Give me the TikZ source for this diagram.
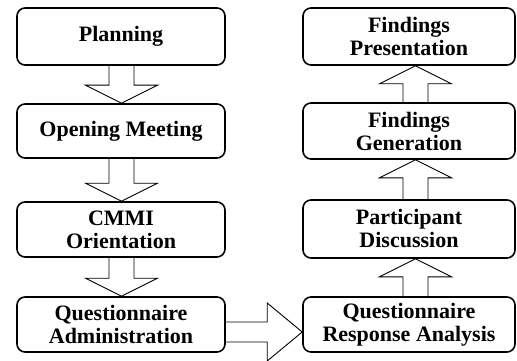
\documentclass[tikz,border=0pt]{standalone}
\usepackage{fontspec}
\setmainfont{Liberation Serif}
\usetikzlibrary{calc}
\newcommand\blkdown[3]{%
\draw[barrow] let \p1=(#1.south), \p2=(#2.north) in
 (\x1+#3-12.5pt,\y1) -- (\x1+#3-12.5pt,\y2+18pt) -- (\x1+#3-36pt,\y2+18pt) -- (\x1+#3,\y2)
 -- (\x1+#3+36pt,\y2+18pt) -- (\x1+#3+12.5pt,\y2+18pt) -- (\x1+#3+12.5pt,\y1);}
\newcommand\blkup[3]{%
\draw[barrow] let \p1=(#1.north), \p2=(#2.south) in
 (\x1+#3-12.5pt,\y1) -- (\x1+#3-12.5pt,\y2-18pt) -- (\x1+#3-36pt,\y2-18pt) -- (\x1+#3,\y2)
 -- (\x1+#3+36pt,\y2-18pt) -- (\x1+#3+12.5pt,\y2-18pt) -- (\x1+#3+12.5pt,\y1);}
\newcommand\blkright[3]{%
\draw[barrow] let \p1=(#1.east), \p2=(#2.west) in
 (\x1,\y1-#3+10pt) -- (\x2-35pt,\y1-#3+10pt) -- (\x2-35pt,\y1-#3+29pt) -- (\x2,\y1-#3)
 -- (\x2-35pt,\y1-#3-29pt) -- (\x2-35pt,\y1-#3-10pt) -- (\x1,\y1-#3-10pt);}
\begin{document}
\begin{tikzpicture}[x=1pt,y=-1pt,
  box/.style={draw, line width=1.6pt, rounded corners=8pt, inner sep=0pt,
    align=center, font=\fontsize{22}{23}\selectfont\bfseries},
  lbox/.style={box, minimum width=208pt},
  rbox/.style={box, minimum width=212pt},
  barrow/.style={line width=0.9pt, line join=miter}]
\useasboundingbox[fill=white] (0,0) rectangle (517,361);
\node[lbox, minimum height=57pt] (plan) at (121,36.5) {Planning};
\node[lbox, minimum height=54pt] (open) at (121,131) {Opening Meeting};
\node[lbox, minimum height=55pt] (cmmi) at (121,229.5) {CMMI\\Orientation};
\node[lbox, minimum height=55pt] (qa) at (121,324.5) {Questionnaire\\Administration};
\node[rbox, minimum height=57pt] (fp) at (409,36.5) {Findings\\Presentation};
\node[rbox, minimum height=56pt] (fg) at (409,131) {Findings\\Generation};
\node[rbox, minimum height=58pt] (pd) at (409,229) {Participant\\Discussion};
\node[rbox, minimum height=55pt] (qra) at (409,324.5) {Questionnaire\\Response Analysis};
\blkdown{plan}{open}{0.5pt}
\blkdown{open}{cmmi}{0.5pt}
\blkdown{cmmi}{qa}{0.5pt}
\blkright{qa}{qra}{7.5pt}
\blkup{qra}{pd}{6.5pt}
\blkup{pd}{fg}{6.5pt}
\blkup{fg}{fp}{6.5pt}
\end{tikzpicture}
\end{document}
